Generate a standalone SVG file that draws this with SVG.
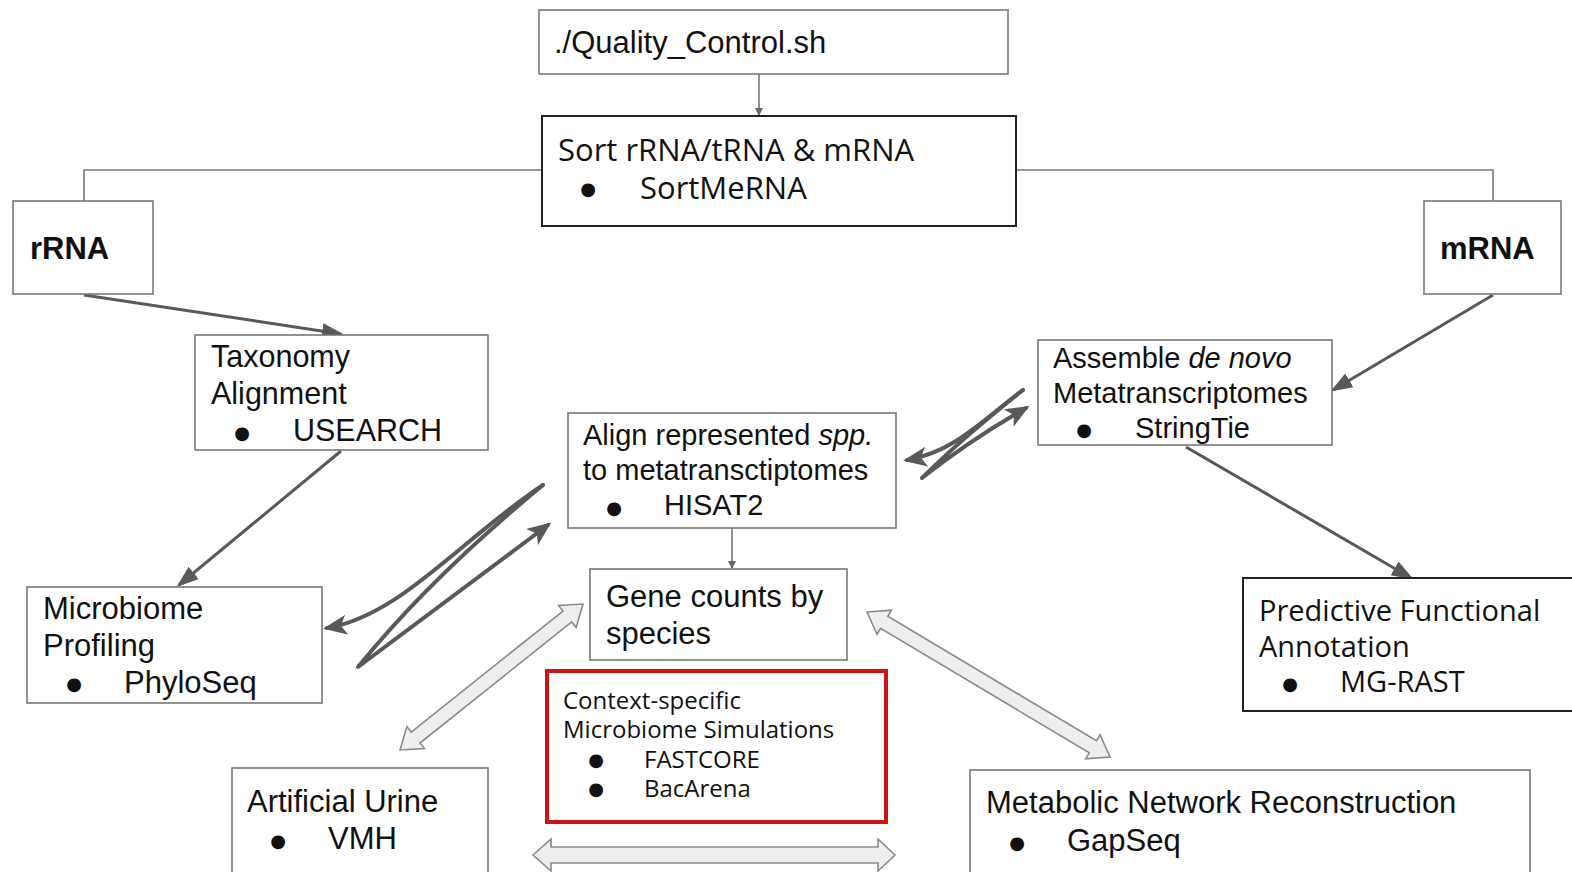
<svg xmlns="http://www.w3.org/2000/svg" width="1572" height="872" viewBox="0 0 1572 872">
<style>
.box{fill:#fff;stroke:#777;stroke-width:1.6}
.dark{fill:#fff;stroke:#222;stroke-width:2}
.red{fill:#fff;stroke:#cc1414;stroke-width:4}
.t{font-family:"Liberation Sans",Arial,sans-serif;fill:#111}
.o{font-family:"Open Sans",sans-serif;fill:#111}
.b{font-family:"DejaVu Sans",sans-serif;fill:#111;text-anchor:middle;font-size:18px}
.thin{fill:none;stroke:#777;stroke-width:1.6}
.arr{fill:none;stroke:#595959;stroke-width:3}
.cur{fill:none;stroke:#595959;stroke-width:4;stroke-linecap:round;stroke-linejoin:round}
.blk{fill:#eeeeee;stroke:#8a8a8a;stroke-width:1.6;stroke-linejoin:miter}
</style>
<defs>
<marker id="ah" markerUnits="userSpaceOnUse" markerWidth="22" markerHeight="18" viewBox="0 0 22 18" refX="19" refY="9" orient="auto"><path d="M0,1 L22,9 L0,17 z" fill="#595959"/></marker>
<marker id="st" markerUnits="userSpaceOnUse" markerWidth="24" markerHeight="20" viewBox="0 0 24 20" refX="20" refY="10" orient="auto"><path d="M0,0 L24,10 L0,20 L6,10 z" fill="#595959"/></marker>
<marker id="sm" markerUnits="userSpaceOnUse" markerWidth="8" markerHeight="8" viewBox="0 0 8 8" refX="7" refY="4" orient="auto"><path d="M0,0 L8,4 L0,8 z" fill="#666"/></marker>
</defs>

<g id="connectors">
<path class="thin" d="M542,170 H84 V201"/>
<path class="thin" d="M1016,170 H1493 V201"/>
<path class="thin" d="M759,74 V115" marker-end="url(#sm)"/>
<path class="thin" d="M732,528 V568" marker-end="url(#sm)"/>
<path class="arr" d="M84,295 L341,334" marker-end="url(#ah)"/>
<path class="arr" d="M341,451 L179,585" marker-end="url(#ah)"/>
<path class="arr" d="M1493,295 L1333,390" marker-end="url(#ah)"/>
<path class="arr" d="M1186,447 L1411,578" marker-end="url(#ah)"/>
<path class="cur" d="M543,485 C460,540 400,616 327,628" marker-end="url(#st)"/>
<path class="cur" d="M543,485 Q430,578 358,667 Q455,595 548,525" marker-end="url(#st)"/>
<path class="cur" d="M1023,390 C985,418 955,452 907,460" marker-end="url(#st)"/>
<path class="cur" d="M1023,390 Q960,440 922,478 Q970,440 1026,408" marker-end="url(#st)"/>
<polygon class="blk" transform="translate(400,750) rotate(-38.58)" points="0,0 20,-14 20,-7 214.1,-7 214.1,-14 234.1,0 214.1,14 214.1,7 20,7 20,14"/>
<polygon class="blk" transform="translate(867,612) rotate(30.83)" points="0,0 20,-14 20,-7 263,-7 263,-14 283,0 263,14 263,7 20,7 20,14"/>
<polygon class="blk" transform="translate(533,855)" points="0,0 18,-16 18,-8 345,-8 345,-16 362,0 345,16 345,8 18,8 18,16"/>
</g>

<g id="quality">
<rect class="box" x="539" y="10" width="469" height="64"/>
<text class="t" x="554" y="53" font-size="31">./Quality_Control.sh</text>
</g>

<g id="sort">
<rect class="dark" x="542" y="116" width="474" height="110"/>
<text class="o" x="558" y="161" font-size="31">Sort rRNA/tRNA &amp; mRNA</text>
<text class="b" x="588" y="195">●</text>
<text class="o" x="640" y="199" font-size="31">SortMeRNA</text>
</g>

<g id="rrna">
<rect class="box" x="13" y="201" width="140" height="93"/>
<text class="t" x="30" y="259" font-size="31" font-weight="bold">rRNA</text>
</g>

<g id="mrna">
<rect class="box" x="1424" y="201" width="137" height="93"/>
<text class="t" x="1440" y="259" font-size="31" font-weight="bold">mRNA</text>
</g>

<g id="taxonomy">
<rect class="box" x="195" y="335" width="293" height="115"/>
<text class="t" x="211" y="367" font-size="30.5">Taxonomy</text>
<text class="t" x="211" y="404" font-size="30.5">Alignment</text>
<text class="b" x="242" y="439">●</text>
<text class="t" x="293" y="441" font-size="30.5">USEARCH</text>
</g>

<g id="assemble">
<rect class="box" x="1038" y="340" width="294" height="105"/>
<text class="t" x="1053" y="368" font-size="29">Assemble <tspan font-style="italic">de novo</tspan></text>
<text class="t" x="1053" y="403" font-size="29">Metatranscriptomes</text>
<text class="b" x="1084" y="436">●</text>
<text class="t" x="1135" y="438" font-size="29">StringTie</text>
</g>

<g id="align">
<rect class="box" x="568" y="413" width="328" height="115"/>
<text class="t" x="583" y="445" font-size="29">Align represented <tspan font-style="italic">spp.</tspan></text>
<text class="t" x="583" y="480" font-size="29">to metatransctiptomes</text>
<text class="b" x="614" y="514">●</text>
<text class="t" x="664" y="515" font-size="29">HISAT2</text>
</g>

<g id="genecounts">
<rect class="box" x="590" y="569" width="257" height="91"/>
<text class="t" x="606" y="607" font-size="31">Gene counts by</text>
<text class="t" x="606" y="644" font-size="31">species</text>
</g>

<g id="microbiome">
<rect class="box" x="27" y="587" width="295" height="116"/>
<text class="t" x="43" y="619" font-size="31">Microbiome</text>
<text class="t" x="43" y="656" font-size="31">Profiling</text>
<text class="b" x="74" y="690">●</text>
<text class="t" x="124" y="693" font-size="31">PhyloSeq</text>
</g>

<g id="predictive">
<rect class="dark" x="1243" y="578" width="332" height="133"/>
<text class="o" x="1259" y="621" font-size="29">Predictive Functional</text>
<text class="o" x="1259" y="657" font-size="29">Annotation</text>
<text class="b" x="1290" y="690">●</text>
<text class="o" x="1340" y="692" font-size="29">MG-RAST</text>
</g>

<g id="simulations">
<rect class="red" x="547" y="671" width="339" height="151"/>
<text class="o" x="563" y="709" font-size="24">Context-specific</text>
<text class="o" x="563" y="738" font-size="24">Microbiome Simulations</text>
<text class="b" x="596" y="766" font-size="15">●</text>
<text class="o" x="644" y="768" font-size="24">FASTCORE</text>
<text class="b" x="596" y="795" font-size="15">●</text>
<text class="o" x="644" y="797" font-size="24">BacArena</text>
</g>

<g id="urine">
<rect class="box" x="232" y="768" width="256" height="120"/>
<text class="t" x="247" y="812" font-size="31">Artificial Urine</text>
<text class="b" x="278" y="847">●</text>
<text class="t" x="328" y="849" font-size="31">VMH</text>
</g>

<g id="metabolic">
<rect class="box" x="970" y="770" width="560" height="120"/>
<text class="t" x="986" y="813" font-size="31">Metabolic Network Reconstruction</text>
<text class="b" x="1017" y="849">●</text>
<text class="t" x="1067" y="851" font-size="31">GapSeq</text>
</g>
</svg>
